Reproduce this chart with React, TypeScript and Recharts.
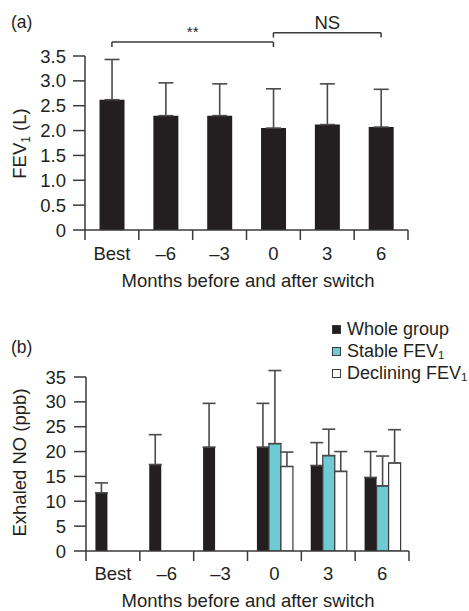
import React from 'react';
import { BarChart, Bar, XAxis, YAxis, ErrorBar, ReferenceLine } from 'recharts';

// categories shared by both panels
const categories = ['Best', '–6', '–3', '0', '3', '6'];

// (a) FEV1 (L): mean and upper SD
const fevMean = [2.62, 2.3, 2.3, 2.05, 2.12, 2.07];
const fevSd = [0.81, 0.66, 0.64, 0.79, 0.82, 0.76];
const fevTicks = [0, 0.5, 1, 1.5, 2, 2.5, 3, 3.5];

// (b) exhaled NO (ppb)
const noWhole = [11.7, 17.4, 20.9, 20.9, 17.2, 14.8];
const noWholeSd = [2.0, 6.0, 8.8, 8.8, 4.6, 5.2];
const noStable = [null, null, null, 21.6, 19.2, 13.1];
const noStableSd = [null, null, null, 14.7, 5.3, 6.0];
const noDeclining = [null, null, null, 17.0, 16.0, 17.7];
const noDecliningSd = [null, null, null, 2.9, 4.0, 6.7];
const noTicks = [0, 5, 10, 15, 20, 25, 30, 35];

const seriesNames = ['Whole group', 'Stable FEV', 'Declining FEV'];
const seriesSubs = ['', '1', '1'];

// significance brackets on panel (a)
const brackets = [
  { from: 'Best', to: '0', level: 3.78, drop: 0.1, text: '**', offset: 5 },
  { from: '0', to: '6', level: 3.97, drop: 0.1, text: 'NS', offset: 4 },
];

const INK = '#231f20';
const AXIS = '#3a3a3a';
const ERR = '#4a4a4a';
const TEAL = '#6ecbd3';
const FS = 18.5;
const FONT = '"Liberation Sans", Arial, Helvetica, sans-serif';

const X_TICK = 10;

const upper = (v: number | null, sd: number | null) =>
  v == null || sd == null ? null : [0, sd];

const fevRows = categories.map((cat, i) => ({
  cat,
  mean: fevMean[i],
  err: upper(fevMean[i], fevSd[i]),
}));

const noRows = categories.map((cat, i) => ({
  cat,
  whole: noWhole[i],
  wholeErr: upper(noWhole[i], noWholeSd[i]),
  stable: noStable[i],
  stableErr: upper(noStable[i], noStableSd[i]),
  declining: noDeclining[i],
  decliningErr: upper(noDeclining[i], noDecliningSd[i]),
}));

// axis title at a fixed spot (recharts overrides x/y on cloned labels)
function Title({ tx, ty, rotate, children }: { tx: number; ty: number; rotate?: boolean; children?: React.ReactNode }) {
  return (
    <text
      x={tx}
      y={ty}
      textAnchor="middle"
      fontSize={FS}
      fill={INK}
      fontFamily={FONT}
      transform={rotate ? `rotate(-90 ${tx} ${ty})` : undefined}
    >
      {children}
    </text>
  );
}

// category label plus tick marks on the band edges (not the centres)
function makeCategoryTick(gap: number) {
  return function CategoryTick(props: any) {
    const { x, y, payload, index, visibleTicksCount } = props;
    const half = payload?.offset || 27;
    const axisY = y - gap;
    const last = index === visibleTicksCount - 1;
    return (
      <g>
        <line x1={x - half} x2={x - half} y1={axisY} y2={axisY + X_TICK} stroke={AXIS} strokeWidth={1.5} />
        {last && <line x1={x + half} x2={x + half} y1={axisY} y2={axisY + X_TICK} stroke={AXIS} strokeWidth={1.5} />}
        <text x={x} y={y} dy="0.71em" textAnchor="middle" fontSize={FS} fill={INK} fontFamily={FONT}>
          {payload.value}
        </text>
      </g>
    );
  };
}

const axisLine = { stroke: AXIS, strokeWidth: 1.5 };
const tickStyle = { fontSize: FS, fill: INK, fontFamily: FONT };
const TickA = makeCategoryTick(17);
const TickB = makeCategoryTick(16);

export default function App() {
  return (
    <div
      style={{
        position: 'absolute',
        left: 0,
        top: 0,
        width: 469,
        height: 611,
        background: '#fff',
        fontFamily: FONT,
        overflow: 'hidden',
      }}
    >
      {/* (a) FEV1 */}
      <div style={{ position: 'absolute', left: 0, top: 0 }}>
        <BarChart
          width={469}
          height={300}
          data={fevRows}
          margin={{ top: 56, right: 61, bottom: 10, left: 25 }}
          barCategoryGap="27%"
        >
          <XAxis
            dataKey="cat"
            height={60}
            interval={0}
            tickLine={false}
            axisLine={axisLine}
            tick={<TickA />}
            tickSize={10}
            tickMargin={7}
            label={<Title tx={248} ty={287}>Months before and after switch</Title>}
          />
          <YAxis
            domain={[0, 3.5]}
            ticks={fevTicks}
            allowDataOverflow
            width={60}
            interval={0}
            axisLine={axisLine}
            tickLine={axisLine}
            tickSize={12}
            tickMargin={7}
            tick={tickStyle}
            tickFormatter={(v: number) => (v === 0 ? '0' : v.toFixed(1))}
            label={
              <Title tx={26} ty={143.5} rotate>
                <tspan>FEV</tspan>
                <tspan fontSize={12} dy={4}>1</tspan>
                <tspan dy={-4}> (L)</tspan>
              </Title>
            }
          />
          <Bar dataKey="mean" fill={INK} isAnimationActive={false}>
            <ErrorBar dataKey="err" direction="y" width={7.5} stroke={ERR} strokeWidth={1.6} isAnimationActive={false} />
          </Bar>
          {brackets.map((b) => (
            <ReferenceLine
              key={`h-${b.text}`}
              segment={[{ x: b.from, y: b.level }, { x: b.to, y: b.level }]}
              stroke={AXIS}
              strokeWidth={1.5}
              ifOverflow="visible"
              label={{ value: b.text, position: 'top', offset: b.offset, fill: INK, fontSize: b.text === '**' ? 15 : FS, fontFamily: FONT }}
            />
          ))}
          {brackets.flatMap((b) =>
            [b.from, b.to].map((c) => (
              <ReferenceLine
                key={`v-${b.text}-${c}`}
                segment={[{ x: c, y: b.level - b.drop }, { x: c, y: b.level }]}
                stroke={AXIS}
                strokeWidth={1.5}
                ifOverflow="visible"
              />
            )),
          )}
        </BarChart>
      </div>

      {/* (b) exhaled NO */}
      <div style={{ position: 'absolute', left: 0, top: 300 }}>
        <BarChart
          width={469}
          height={311}
          data={noRows}
          margin={{ top: 77, right: 60, bottom: 10, left: 26 }}
          barCategoryGap="17.5%"
          barGap={0}
        >
          <XAxis
            dataKey="cat"
            height={50}
            interval={0}
            tickLine={false}
            axisLine={axisLine}
            tick={<TickB />}
            tickSize={10}
            tickMargin={6}
            label={<Title tx={248} ty={307}>Months before and after switch</Title>}
          />
          <YAxis
            domain={[0, 35]}
            ticks={noTicks}
            allowDataOverflow
            width={60}
            interval={0}
            axisLine={axisLine}
            tickLine={axisLine}
            tickSize={12}
            tickMargin={8}
            tick={tickStyle}
            label={<Title tx={26} ty={162.5} rotate>Exhaled NO (ppb)</Title>}
          />
          <Bar dataKey="whole" fill={INK} isAnimationActive={false}>
            <ErrorBar dataKey="wholeErr" direction="y" width={6.5} stroke={ERR} strokeWidth={1.6} isAnimationActive={false} />
          </Bar>
          <Bar dataKey="stable" fill={TEAL} stroke={AXIS} strokeWidth={1.2} isAnimationActive={false}>
            <ErrorBar dataKey="stableErr" direction="y" width={6.5} stroke={ERR} strokeWidth={1.6} isAnimationActive={false} />
          </Bar>
          <Bar dataKey="declining" fill="#ffffff" stroke={AXIS} strokeWidth={1.2} isAnimationActive={false}>
            <ErrorBar dataKey="decliningErr" direction="y" width={6.5} stroke={ERR} strokeWidth={1.6} isAnimationActive={false} />
          </Bar>
        </BarChart>
      </div>

      {/* legend for (b) */}
      <div style={{ position: 'absolute', left: 332, top: 318, color: INK, fontSize: 18, lineHeight: '22px' }}>
        {seriesNames.map((name, i) => (
          <div key={name} style={{ display: 'flex', alignItems: 'center', whiteSpace: 'nowrap' }}>
            <span
              style={{
                display: 'inline-block',
                width: 9,
                height: 9,
                boxSizing: 'border-box',
                marginRight: 6,
                background: [INK, TEAL, '#ffffff'][i],
                border: `1.2px solid ${AXIS}`,
              }}
            />
            {name}
            {seriesSubs[i] && <span style={{ fontSize: 11.5, position: 'relative', top: 4 }}>{seriesSubs[i]}</span>}
          </div>
        ))}
      </div>

      {/* panel letters */}
      <svg width={469} height={611} style={{ position: 'absolute', left: 0, top: 0, pointerEvents: 'none' }}>
        <text x={11} y={28} fontSize={17.5} fill={INK} fontFamily={FONT}>(a)</text>
        <text x={11} y={353} fontSize={17.5} fill={INK} fontFamily={FONT}>(b)</text>
      </svg>
    </div>
  );
}
